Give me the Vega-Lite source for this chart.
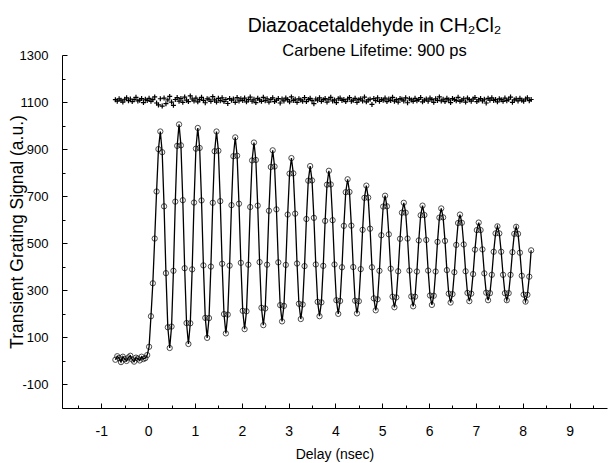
{
  "$schema": "https://vega.github.io/schema/vega-lite/v6.json",
  "width": 545,
  "height": 353,
  "autosize": {"type": "none"},
  "padding": {"left": 62, "top": 55, "right": 1, "bottom": 55},
  "background": "white",
  "config": {
    "view": {"stroke": null},
    "font": "Liberation Sans",
    "axis": {"grid": false, "domainColor": "black", "domainWidth": 1, "tickColor": "black", "tickWidth": 1, "labelColor": "black", "titleColor": "black", "labelFont": "Liberation Sans", "titleFont": "Liberation Sans", "titleFontWeight": "normal", "labelFontSize": 13, "titleFontSize": 14, "labelFlush": false, "labelOverlap": false}
  },
  "title": {"text": "Diazoacetaldehyde in CH₂Cl₂", "subtitle": "Carbene Lifetime: 900 ps", "frame": "group", "anchor": "middle", "dx": 40, "offset": -11, "font": "Liberation Sans", "subtitleFont": "Liberation Sans", "fontSize": 19.5, "subtitleFontSize": 16.5, "fontWeight": "normal", "color": "black", "subtitleColor": "black", "subtitlePadding": 6},
  "data": {"values": [
    {"t": -0.70, "s": 5, "r": 1110}, {"t": -0.66, "s": 20, "r": 1104}, {"t": -0.62, "s": 12, "r": 1114}, {"t": -0.58, "s": -5, "r": 1108},
    {"t": -0.54, "s": 18, "r": 1100}, {"t": -0.50, "s": 8, "r": 1112}, {"t": -0.46, "s": 0, "r": 1118}, {"t": -0.42, "s": 15, "r": 1106},
    {"t": -0.38, "s": 22, "r": 1113}, {"t": -0.34, "s": 6, "r": 1102}, {"t": -0.30, "s": -3, "r": 1111}, {"t": -0.26, "s": 14, "r": 1120},
    {"t": -0.22, "s": 10, "r": 1105}, {"t": -0.18, "s": 2, "r": 1108}, {"t": -0.14, "s": 18, "r": 1115}, {"t": -0.10, "s": 8, "r": 1098},
    {"t": -0.06, "s": 12, "r": 1112}, {"t": -0.02, "s": 25, "r": 1107}, {"t": 0.02, "s": 60, "r": 1116}, {"t": 0.06, "s": 190, "r": 1103},
    {"t": 0.10, "s": 330, "r": 1110}, {"t": 0.14, "s": 520, "r": 1122}, {"t": 0.18, "s": 720, "r": 1096}, {"t": 0.22, "s": 900, "r": 1088},
    {"t": 0.26, "s": 975, "r": 1114}, {"t": 0.30, "s": 887, "r": 1083}, {"t": 0.34, "s": 657, "r": 1117}, {"t": 0.38, "s": 373, "r": 1093},
    {"t": 0.42, "s": 143, "r": 1109}, {"t": 0.46, "s": 55, "r": 1124}, {"t": 0.50, "s": 146, "r": 1100}, {"t": 0.54, "s": 383, "r": 1086},
    {"t": 0.58, "s": 677, "r": 1111}, {"t": 0.62, "s": 914, "r": 1119}, {"t": 0.66, "s": 1005, "r": 1104}, {"t": 0.70, "s": 916, "r": 1115},
    {"t": 0.74, "s": 683, "r": 1099}, {"t": 0.78, "s": 394, "r": 1121}, {"t": 0.82, "s": 161, "r": 1108}, {"t": 0.86, "s": 72, "r": 1102},
    {"t": 0.90, "s": 160, "r": 1126}, {"t": 0.94, "s": 389, "r": 1113}, {"t": 0.98, "s": 673, "r": 1105}, {"t": 1.02, "s": 902, "r": 1117},
    {"t": 1.06, "s": 990, "r": 1101}, {"t": 1.10, "s": 905, "r": 1110}, {"t": 1.14, "s": 682, "r": 1120}, {"t": 1.18, "s": 406, "r": 1107},
    {"t": 1.22, "s": 183, "r": 1097}, {"t": 1.26, "s": 98, "r": 1114}, {"t": 1.30, "s": 182, "r": 1112}, {"t": 1.34, "s": 401, "r": 1103},
    {"t": 1.38, "s": 672, "r": 1123}, {"t": 1.42, "s": 891, "r": 1109}, {"t": 1.46, "s": 975, "r": 1100}, {"t": 1.50, "s": 893, "r": 1116},
    {"t": 1.54, "s": 679, "r": 1106}, {"t": 1.58, "s": 413, "r": 1118}, {"t": 1.62, "s": 199, "r": 1102}, {"t": 1.66, "s": 117, "r": 1111},
    {"t": 1.70, "s": 197, "r": 1094}, {"t": 1.74, "s": 405, "r": 1115}, {"t": 1.78, "s": 662, "r": 1108}, {"t": 1.82, "s": 870, "r": 1113},
    {"t": 1.86, "s": 950, "r": 1099}, {"t": 1.90, "s": 872, "r": 1119}, {"t": 1.94, "s": 668, "r": 1105}, {"t": 1.98, "s": 417, "r": 1114},
    {"t": 2.02, "s": 213, "r": 1107}, {"t": 2.06, "s": 135, "r": 1117}, {"t": 2.10, "s": 211, "r": 1101}, {"t": 2.14, "s": 409, "r": 1110},
    {"t": 2.18, "s": 654, "r": 1121}, {"t": 2.22, "s": 852, "r": 1104}, {"t": 2.26, "s": 928, "r": 1112}, {"t": 2.30, "s": 854, "r": 1098},
    {"t": 2.34, "s": 660, "r": 1116}, {"t": 2.38, "s": 420, "r": 1109}, {"t": 2.42, "s": 226, "r": 1103}, {"t": 2.46, "s": 152, "r": 1120},
    {"t": 2.50, "s": 223, "r": 1106}, {"t": 2.54, "s": 409, "r": 1114}, {"t": 2.58, "s": 638, "r": 1100}, {"t": 2.62, "s": 824, "r": 1111},
    {"t": 2.66, "s": 895, "r": 1118}, {"t": 2.70, "s": 826, "r": 1102}, {"t": 2.74, "s": 644, "r": 1108}, {"t": 2.78, "s": 419, "r": 1115},
    {"t": 2.82, "s": 237, "r": 1096}, {"t": 2.86, "s": 168, "r": 1113}, {"t": 2.90, "s": 234, "r": 1105}, {"t": 2.94, "s": 408, "r": 1117},
    {"t": 2.98, "s": 622, "r": 1110}, {"t": 3.02, "s": 796, "r": 1101}, {"t": 3.06, "s": 862, "r": 1122}, {"t": 3.10, "s": 797, "r": 1107},
    {"t": 3.14, "s": 626, "r": 1112}, {"t": 3.18, "s": 414, "r": 1099}, {"t": 3.22, "s": 243, "r": 1114}, {"t": 3.26, "s": 178, "r": 1109},
    {"t": 3.30, "s": 240, "r": 1104}, {"t": 3.34, "s": 403, "r": 1119}, {"t": 3.38, "s": 603, "r": 1102}, {"t": 3.42, "s": 766, "r": 1111},
    {"t": 3.46, "s": 828, "r": 1116}, {"t": 3.50, "s": 767, "r": 1106}, {"t": 3.54, "s": 608, "r": 1093}, {"t": 3.58, "s": 410, "r": 1113},
    {"t": 3.62, "s": 251, "r": 1108}, {"t": 3.66, "s": 190, "r": 1118}, {"t": 3.70, "s": 249, "r": 1103}, {"t": 3.74, "s": 404, "r": 1110},
    {"t": 3.78, "s": 595, "r": 1115}, {"t": 3.82, "s": 749, "r": 1100}, {"t": 3.86, "s": 808, "r": 1112}, {"t": 3.90, "s": 750, "r": 1120},
    {"t": 3.94, "s": 598, "r": 1105}, {"t": 3.98, "s": 410, "r": 1109}, {"t": 4.02, "s": 258, "r": 1098}, {"t": 4.06, "s": 200, "r": 1114},
    {"t": 4.10, "s": 255, "r": 1117}, {"t": 4.14, "s": 398, "r": 1107}, {"t": 4.18, "s": 574, "r": 1111}, {"t": 4.22, "s": 717, "r": 1102},
    {"t": 4.26, "s": 772, "r": 1113}, {"t": 4.30, "s": 718, "r": 1119}, {"t": 4.34, "s": 575, "r": 1104}, {"t": 4.38, "s": 399, "r": 1108},
    {"t": 4.42, "s": 256, "r": 1116}, {"t": 4.46, "s": 202, "r": 1099}, {"t": 4.50, "s": 254, "r": 1110}, {"t": 4.54, "s": 390, "r": 1114},
    {"t": 4.58, "s": 557, "r": 1105}, {"t": 4.62, "s": 693, "r": 1121}, {"t": 4.66, "s": 745, "r": 1101}, {"t": 4.70, "s": 694, "r": 1109},
    {"t": 4.74, "s": 562, "r": 1112}, {"t": 4.78, "s": 398, "r": 1090}, {"t": 4.82, "s": 266, "r": 1115}, {"t": 4.86, "s": 215, "r": 1106},
    {"t": 4.90, "s": 262, "r": 1118}, {"t": 4.94, "s": 383, "r": 1103}, {"t": 4.98, "s": 534, "r": 1111}, {"t": 5.02, "s": 656, "r": 1108},
    {"t": 5.06, "s": 702, "r": 1117}, {"t": 5.10, "s": 657, "r": 1102}, {"t": 5.14, "s": 538, "r": 1113}, {"t": 5.18, "s": 392, "r": 1107},
    {"t": 5.22, "s": 273, "r": 1120}, {"t": 5.26, "s": 228, "r": 1104}, {"t": 5.30, "s": 270, "r": 1110}, {"t": 5.34, "s": 381, "r": 1100},
    {"t": 5.38, "s": 519, "r": 1115}, {"t": 5.42, "s": 630, "r": 1112}, {"t": 5.46, "s": 672, "r": 1105}, {"t": 5.50, "s": 630, "r": 1118},
    {"t": 5.54, "s": 520, "r": 1097}, {"t": 5.58, "s": 384, "r": 1114}, {"t": 5.62, "s": 274, "r": 1109}, {"t": 5.66, "s": 232, "r": 1103},
    {"t": 5.70, "s": 273, "r": 1116}, {"t": 5.74, "s": 380, "r": 1106}, {"t": 5.78, "s": 512, "r": 1111}, {"t": 5.82, "s": 619, "r": 1119},
    {"t": 5.86, "s": 660, "r": 1101}, {"t": 5.90, "s": 620, "r": 1108}, {"t": 5.94, "s": 514, "r": 1113}, {"t": 5.98, "s": 384, "r": 1104},
    {"t": 6.02, "s": 278, "r": 1117}, {"t": 6.06, "s": 238, "r": 1110}, {"t": 6.10, "s": 277, "r": 1099}, {"t": 6.14, "s": 380, "r": 1114},
    {"t": 6.18, "s": 506, "r": 1107}, {"t": 6.22, "s": 609, "r": 1122}, {"t": 6.26, "s": 648, "r": 1105}, {"t": 6.30, "s": 610, "r": 1112},
    {"t": 6.34, "s": 510, "r": 1102}, {"t": 6.38, "s": 386, "r": 1116}, {"t": 6.42, "s": 286, "r": 1109}, {"t": 6.46, "s": 248, "r": 1098},
    {"t": 6.50, "s": 284, "r": 1115}, {"t": 6.54, "s": 377, "r": 1111}, {"t": 6.58, "s": 493, "r": 1106}, {"t": 6.62, "s": 586, "r": 1120},
    {"t": 6.66, "s": 622, "r": 1103}, {"t": 6.70, "s": 587, "r": 1108}, {"t": 6.74, "s": 495, "r": 1114}, {"t": 6.78, "s": 381, "r": 1100},
    {"t": 6.82, "s": 289, "r": 1117}, {"t": 6.86, "s": 254, "r": 1110}, {"t": 6.90, "s": 286, "r": 1104}, {"t": 6.94, "s": 369, "r": 1113},
    {"t": 6.98, "s": 473, "r": 1119}, {"t": 7.02, "s": 556, "r": 1102}, {"t": 7.06, "s": 588, "r": 1109}, {"t": 7.10, "s": 556, "r": 1115},
    {"t": 7.14, "s": 474, "r": 1105}, {"t": 7.18, "s": 372, "r": 1112}, {"t": 7.22, "s": 290, "r": 1096}, {"t": 7.26, "s": 258, "r": 1116},
    {"t": 7.30, "s": 288, "r": 1108}, {"t": 7.34, "s": 366, "r": 1118}, {"t": 7.38, "s": 464, "r": 1107}, {"t": 7.42, "s": 542, "r": 1111},
    {"t": 7.46, "s": 572, "r": 1101}, {"t": 7.50, "s": 542, "r": 1114}, {"t": 7.54, "s": 464, "r": 1110}, {"t": 7.58, "s": 366, "r": 1103},
    {"t": 7.62, "s": 288, "r": 1117}, {"t": 7.66, "s": 258, "r": 1106}, {"t": 7.70, "s": 288, "r": 1112}, {"t": 7.74, "s": 366, "r": 1121},
    {"t": 7.78, "s": 462, "r": 1099}, {"t": 7.82, "s": 540, "r": 1109}, {"t": 7.86, "s": 570, "r": 1114}, {"t": 7.90, "s": 540, "r": 1105},
    {"t": 7.94, "s": 460, "r": 1116}, {"t": 7.98, "s": 362, "r": 1108}, {"t": 8.02, "s": 282, "r": 1104}, {"t": 8.06, "s": 252, "r": 1113},
    {"t": 8.10, "s": 281, "r": 1118}, {"t": 8.14, "s": 358, "r": 1106}, {"t": 8.18, "s": 470, "r": 1111}
  ]},
  "resolve": {"axis": {"x": "independent", "y": "independent"}},
  "layer": [
    {
      "mark": {"type": "line", "color": "black", "strokeWidth": 1.3},
      "encoding": {
        "x": {"field": "t", "type": "quantitative", "scale": {"domain": [-1.84, 9.8], "nice": false, "zero": false},
              "axis": {"orient": "bottom", "values": [-1, 0, 1, 2, 3, 4, 5, 6, 7, 8, 9], "labelExpr": "'' + datum.value", "tickSize": -5, "labelPadding": 21, "labelFontSize": 14, "title": "Delay (nsec)", "titlePadding": 9}},
        "y": {"field": "s", "type": "quantitative", "scale": {"domain": [-200, 1300], "nice": false, "zero": false},
              "axis": {"orient": "left", "values": [-100, 100, 300, 500, 700, 900, 1100, 1300], "labelExpr": "'' + datum.value", "tickSize": -5, "labelPadding": 19, "title": "Transient Grating Signal (a.u.)", "titleFontSize": 17.5, "titlePadding": -7}}
      }
    },
    {
      "mark": {"type": "point", "shape": "circle", "filled": false, "color": "black", "size": 28, "strokeWidth": 1},
      "encoding": {
        "x": {"field": "t", "type": "quantitative", "axis": null},
        "y": {"field": "s", "type": "quantitative", "axis": null}
      }
    },
    {
      "mark": {"type": "point", "shape": "M-1,0H1M0,-1V1", "filled": false, "color": "black", "size": 25, "strokeWidth": 1.2, "opacity": 1},
      "encoding": {
        "x": {"field": "t", "type": "quantitative",
              "axis": {"orient": "bottom", "values": [-1.5, -0.5, 0.5, 1.5, 2.5, 3.5, 4.5, 5.5, 6.5, 7.5, 8.5, 9.5], "tickSize": -3, "labels": false, "domain": false, "title": null}},
        "y": {"field": "r", "type": "quantitative",
              "axis": {"orient": "left", "values": [-200, 0, 200, 400, 600, 800, 1000, 1200], "tickSize": -3, "labels": false, "domain": false, "title": null}}
      }
    }
  ]
}
